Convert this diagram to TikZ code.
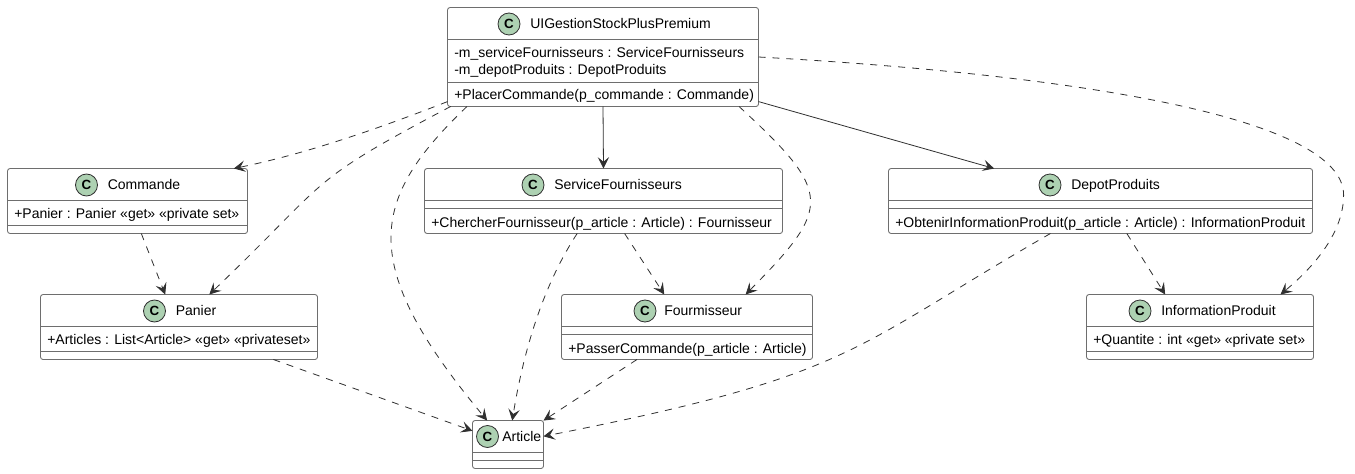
\documentclass[tikz,border=0pt]{standalone}
\usepackage{fontspec}
\setmainfont{Liberation Sans}
\usetikzlibrary{arrows.meta,fit}
\definecolor{iconfill}{HTML}{ADD1B2}
\definecolor{umlline}{HTML}{303030}
\definecolor{boxline}{HTML}{6E6E6E}
\tikzset{
  classbox/.style={draw=boxline,fill=white,line width=0.65pt,rounded corners=1.9pt,inner sep=0pt,outer sep=0pt},
  divider/.style={draw=boxline,line width=0.65pt},
  classicon/.style={circle,draw=umlline,fill=iconfill,line width=0.6pt,minimum size=16.5pt,inner sep=0pt,font=\bfseries\fontsize{10}{10}\selectfont},
  classtitle/.style={anchor=base west,inner sep=0pt,font=\fontsize{10.5}{12}\selectfont},
  member/.style={anchor=base west,inner sep=0pt,font=\fontsize{10.5}{12}\selectfont},
  dep/.style={draw=umlline,line width=0.6pt,dash pattern=on 5.25pt off 5.25pt,-{Stealth[length=8.5pt,width=8.5pt,inset=3.5pt]}},
  use/.style={draw=umlline,line width=0.6pt,-{Stealth[length=8.5pt,width=8.5pt,inset=3.5pt]}}
}
\begin{document}
\begin{tikzpicture}[x=0.75pt,y=-0.75pt]
  \useasboundingbox[fill=white] (0,0) rectangle (1355,474);
  % boxes
  \node[classbox,fit={(447.5,7.5)(758.5,106.5)}] (ui) {};
  \node[classbox,fit={(7.5,168.5)(247.5,233.5)}] (commande) {};
  \node[classbox,fit={(424.5,168.5)(782.5,233.5)}] (service) {};
  \node[classbox,fit={(888.5,168.5)(1312.5,233.5)}] (depot) {};
  \node[classbox,fit={(40.5,294.5)(317.5,359.5)}] (panier) {};
  \node[classbox,fit={(561.5,294.5)(812.5,359.5)}] (fournisseur) {};
  \node[classbox,fit={(1086.5,294.5)(1313.5,359.5)}] (info) {};
  \node[classbox,fit={(472.5,420.5)(543.5,468.5)}] (article) {};
  % compartments
  \draw[divider] (447.5,39.5)--(758.5,39.5) (447.5,82.5)--(758.5,82.5);
  \draw[divider] (7.5,200.5)--(247.5,200.5) (7.5,225.5)--(247.5,225.5);
  \draw[divider] (424.5,200.5)--(782.5,200.5) (424.5,208.5)--(782.5,208.5);
  \draw[divider] (888.5,200.5)--(1312.5,200.5) (888.5,208.5)--(1312.5,208.5);
  \draw[divider] (40.5,326.5)--(317.5,326.5) (40.5,351.5)--(317.5,351.5);
  \draw[divider] (561.5,326.5)--(812.5,326.5) (561.5,334.5)--(812.5,334.5);
  \draw[divider] (1086.5,326.5)--(1313.5,326.5) (1086.5,351.5)--(1313.5,351.5);
  \draw[divider] (472.5,452.5)--(543.5,452.5) (472.5,460.5)--(543.5,460.5);
  % icons and titles
  \node[classicon] (uiicon) at (509,24) {C};
  \node[classtitle] (uititle) at (530,29) {UIGestionStockPlusPremium};
  \node[classicon] (commandeicon) at (86.5,185) {C};
  \node[classtitle] (commandetitle) at (107.5,189.5) {Commande};
  \node[classicon] (serviceicon) at (533,185) {C};
  \node[classtitle] (servicetitle) at (554,189.5) {ServiceFournisseurs};
  \node[classicon] (depoticon) at (1050,185) {C};
  \node[classtitle] (depottitle) at (1071,189.5) {DepotProduits};
  \node[classicon] (paniericon) at (154.5,311) {C};
  \node[classtitle] (paniertitle) at (175.5,315.5) {Panier};
  \node[classicon] (fournisseuricon) at (645,311) {C};
  \node[classtitle] (fournisseurtitle) at (664,315.5) {Fourmisseur};
  \node[classicon] (infoicon) at (1140,311) {C};
  \node[classtitle] (infotitle) at (1161,315.5) {InformationProduit};
  \node[classicon] (articleicon) at (487.5,436.5) {C};
  \node[classtitle] (articletitle) at (502,441.5) {Article};
  % members
  \node[member] (uiservice) at (454,57.5) {-m\_serviceFournisseurs : ServiceFournisseurs};
  \node[member] (uidepot) at (454,75) {-m\_depotProduits : DepotProduits};
  \node[member] (uiplacer) at (454,100) {+PlacerCommande(p\_commande : Commande)};
  \node[member] (commandepanier) at (14,218.5) {+Panier : Panier «get» «private set»};
  \node[member] (servicechercher) at (431,227.5) {+ChercherFournisseur(p\_article : Article) : Fournisseur};
  \node[member] (depotobtenir) at (895,227.5) {+ObtenirInformationProduit(p\_article : Article) : InformationProduit};
  \node[member] (panierarticles) at (47,344.5) {+Articles : List<Article> «get» «privateset»};
  \node[member] (fournisseurpasser) at (568,353.5) {+PasserCommande(p\_article : Article)};
  \node[member] (infoquantite) at (1093,344.5) {+Quantite : int «get» «private set»};
  % connectors
  \coordinate (infobend) at (1343.6,195);
  \draw[dep] (ui.196.8) .. controls (370,132) and (300,155) .. (commande.17);
  \draw[dep] (ui.198.7) .. controls (304,184) and (333,176) .. (panier.47.3);
  \draw[dep] (ui.200.4) .. controls (369,200) and (357,264) .. (article.131.2);
  \draw[use] (ui.south) -- (service.north);
  \draw[dep] (ui.-20.1) .. controls (833,193) and (832,207) .. (fournisseur.29.3);
  \draw[use] (ui.-16.1) -- (depot.163.5);
  \draw[dep] (ui.-0.7) .. controls (1080,75) and (1343.6,118) .. (infobend) .. controls (1343.6,235) and (1310,270) .. (info.22.4);
  \draw[dep] (commande.-67.4) -- (panier.113.3);
  \draw[dep] (service.-57.8) -- (fournisseur.125.3);
  \draw[dep] (service.231.9) .. controls (540,290) and (522,360) .. (article.80.5);
  \draw[dep] (depot.-51.9) -- (info.137.9);
  \draw[dep] (depot.213.8) .. controls (851,348) and (856,375) .. (article.13.5);
  \draw[dep] (panier.-19.7) -- (article.159.2);
  \draw[dep] (fournisseur.213.6) -- (article.34);
\end{tikzpicture}
\end{document}
